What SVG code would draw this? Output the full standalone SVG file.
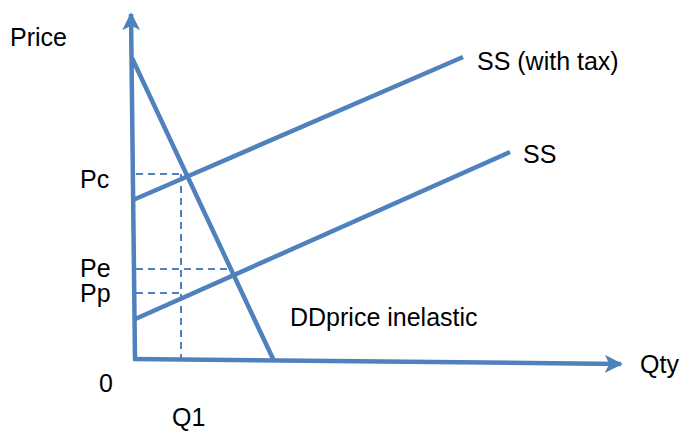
<svg xmlns="http://www.w3.org/2000/svg" width="680" height="433" viewBox="0 0 680 433">
<style>
.ln{stroke:#4F81BD;stroke-width:4.5;fill:none;stroke-linecap:butt}
.ds{stroke:#4F81BD;stroke-width:2;fill:none;stroke-dasharray:7 5}
text{font-family:"Liberation Sans",Arial,sans-serif;font-size:25px;fill:#000}
</style>
<defs>
<marker id="ah" viewBox="0 0 10 10" refX="9" refY="5" markerWidth="4" markerHeight="4" markerUnits="strokeWidth" orient="auto">
<path d="M0,0 L10,5 L0,10 L2.5,5 z" fill="#4F81BD"/>
</marker>
</defs>
<rect width="680" height="433" fill="#fff"/>
<g id="connectors">
<line class="ds" x1="136" y1="174" x2="181" y2="174"/>
<line class="ds" x1="181" y1="174" x2="181" y2="358"/>
<line class="ds" x1="136" y1="269" x2="231" y2="269"/>
<line class="ds" x1="136" y1="293" x2="181" y2="293"/>
<line class="ln" x1="135" y1="359" x2="131" y2="14" marker-end="url(#ah)"/>
<line class="ln" x1="133" y1="359" x2="621" y2="364" marker-end="url(#ah)"/>
</g>
<g id="demand"><line class="ln" x1="132" y1="58" x2="274" y2="361"/></g>
<g id="supply-tax"><line class="ln" x1="133" y1="200" x2="463" y2="57"/></g>
<g id="supply"><line class="ln" x1="133" y1="320" x2="510" y2="152"/></g>
<g id="labels">
<text x="10" y="46">Price</text>
<text x="80" y="188">Pc</text>
<text x="80" y="277">Pe</text>
<text x="80" y="302">Pp</text>
<text x="99" y="392">0</text>
<text x="172" y="426">Q1</text>
<text x="290" y="326">DDprice inelastic</text>
<text x="477" y="70">SS (with tax)</text>
<text x="523" y="163">SS</text>
<text x="640" y="373">Qty</text>
</g>
</svg>
